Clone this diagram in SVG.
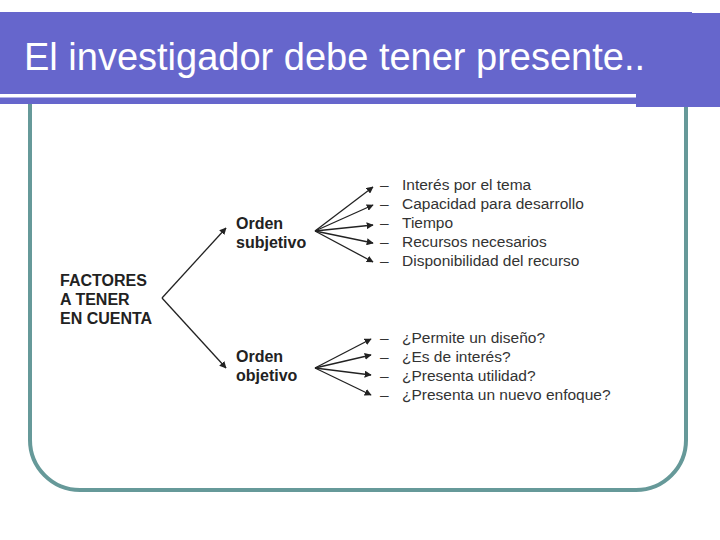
<svg xmlns="http://www.w3.org/2000/svg" width="720" height="540" viewBox="0 0 720 540">
<defs>
<marker id="ah" viewBox="0 0 10 10" refX="9" refY="5" markerWidth="7" markerHeight="7" markerUnits="userSpaceOnUse" orient="auto">
<path d="M0,0 L10,5 L0,10 z" fill="#222"/>
</marker>
<style>
.t{font-family:"Liberation Sans",Arial,sans-serif;}
.b{font-family:"Liberation Sans",Arial,sans-serif;font-weight:bold;font-size:16px;fill:#222;}
.i{font-family:"Liberation Sans",Arial,sans-serif;font-size:15.5px;fill:#333;}
.c{stroke:#222;stroke-width:1.3;fill:none;marker-end:url(#ah);}
</style>
</defs>
<rect width="720" height="540" fill="#fff"/>
<path d="M30,100 V440 A50,50 0 0 0 80,490 H636 A50,50 0 0 0 686,440 V100" fill="none" stroke="#669999" stroke-width="4"/>
<g id="header">
<rect x="0" y="12" width="692" height="92" fill="#6666cc"/>
<rect x="636" y="13" width="84" height="94" fill="#6666cc"/>
<rect x="0" y="94" width="636" height="3.5" fill="#fff"/>
<text class="t" x="24" y="70" font-size="38" fill="#fff">El investigador debe tener presente..</text>
</g>
<g id="factores">
<text class="b" x="60" y="286">FACTORES</text>
<text class="b" x="60" y="305">A TENER</text>
<text class="b" x="60" y="324">EN CUENTA</text>
</g>
<g id="subjetivo">
<text class="b" x="236" y="229">Orden</text>
<text class="b" x="236" y="248">subjetivo</text>
</g>
<g id="objetivo">
<text class="b" x="236" y="362">Orden</text>
<text class="b" x="236" y="381">objetivo</text>
</g>
<g id="items-subjetivo">
<text class="i" x="380" y="190">–</text><text class="i" x="402" y="190">Interés por el tema</text>
<text class="i" x="380" y="209">–</text><text class="i" x="402" y="209">Capacidad para desarrollo</text>
<text class="i" x="380" y="228">–</text><text class="i" x="402" y="228">Tiempo</text>
<text class="i" x="380" y="247">–</text><text class="i" x="402" y="247">Recursos  necesarios</text>
<text class="i" x="380" y="266">–</text><text class="i" x="402" y="266">Disponibilidad del recurso</text>
</g>
<g id="items-objetivo">
<text class="i" x="380" y="343">–</text><text class="i" x="402" y="343">¿Permite un diseño?</text>
<text class="i" x="380" y="362">–</text><text class="i" x="402" y="362">¿Es de interés?</text>
<text class="i" x="380" y="381">–</text><text class="i" x="402" y="381">¿Presenta utilidad?</text>
<text class="i" x="380" y="400">–</text><text class="i" x="402" y="400">¿Presenta un nuevo enfoque?</text>
</g>
<g id="connectors">
<path class="c" d="M162,298 L226,228"/>
<path class="c" d="M162,298 L226,368"/>
<path class="c" d="M315,231 L373,187"/>
<path class="c" d="M315,231 L373,205"/>
<path class="c" d="M315,231 L373,225"/>
<path class="c" d="M315,231 L373,243"/>
<path class="c" d="M315,231 L373,262"/>
<path class="c" d="M315,368 L371,339"/>
<path class="c" d="M315,368 L371,355"/>
<path class="c" d="M315,368 L371,375"/>
<path class="c" d="M315,368 L371,395"/>
</g>
</svg>
